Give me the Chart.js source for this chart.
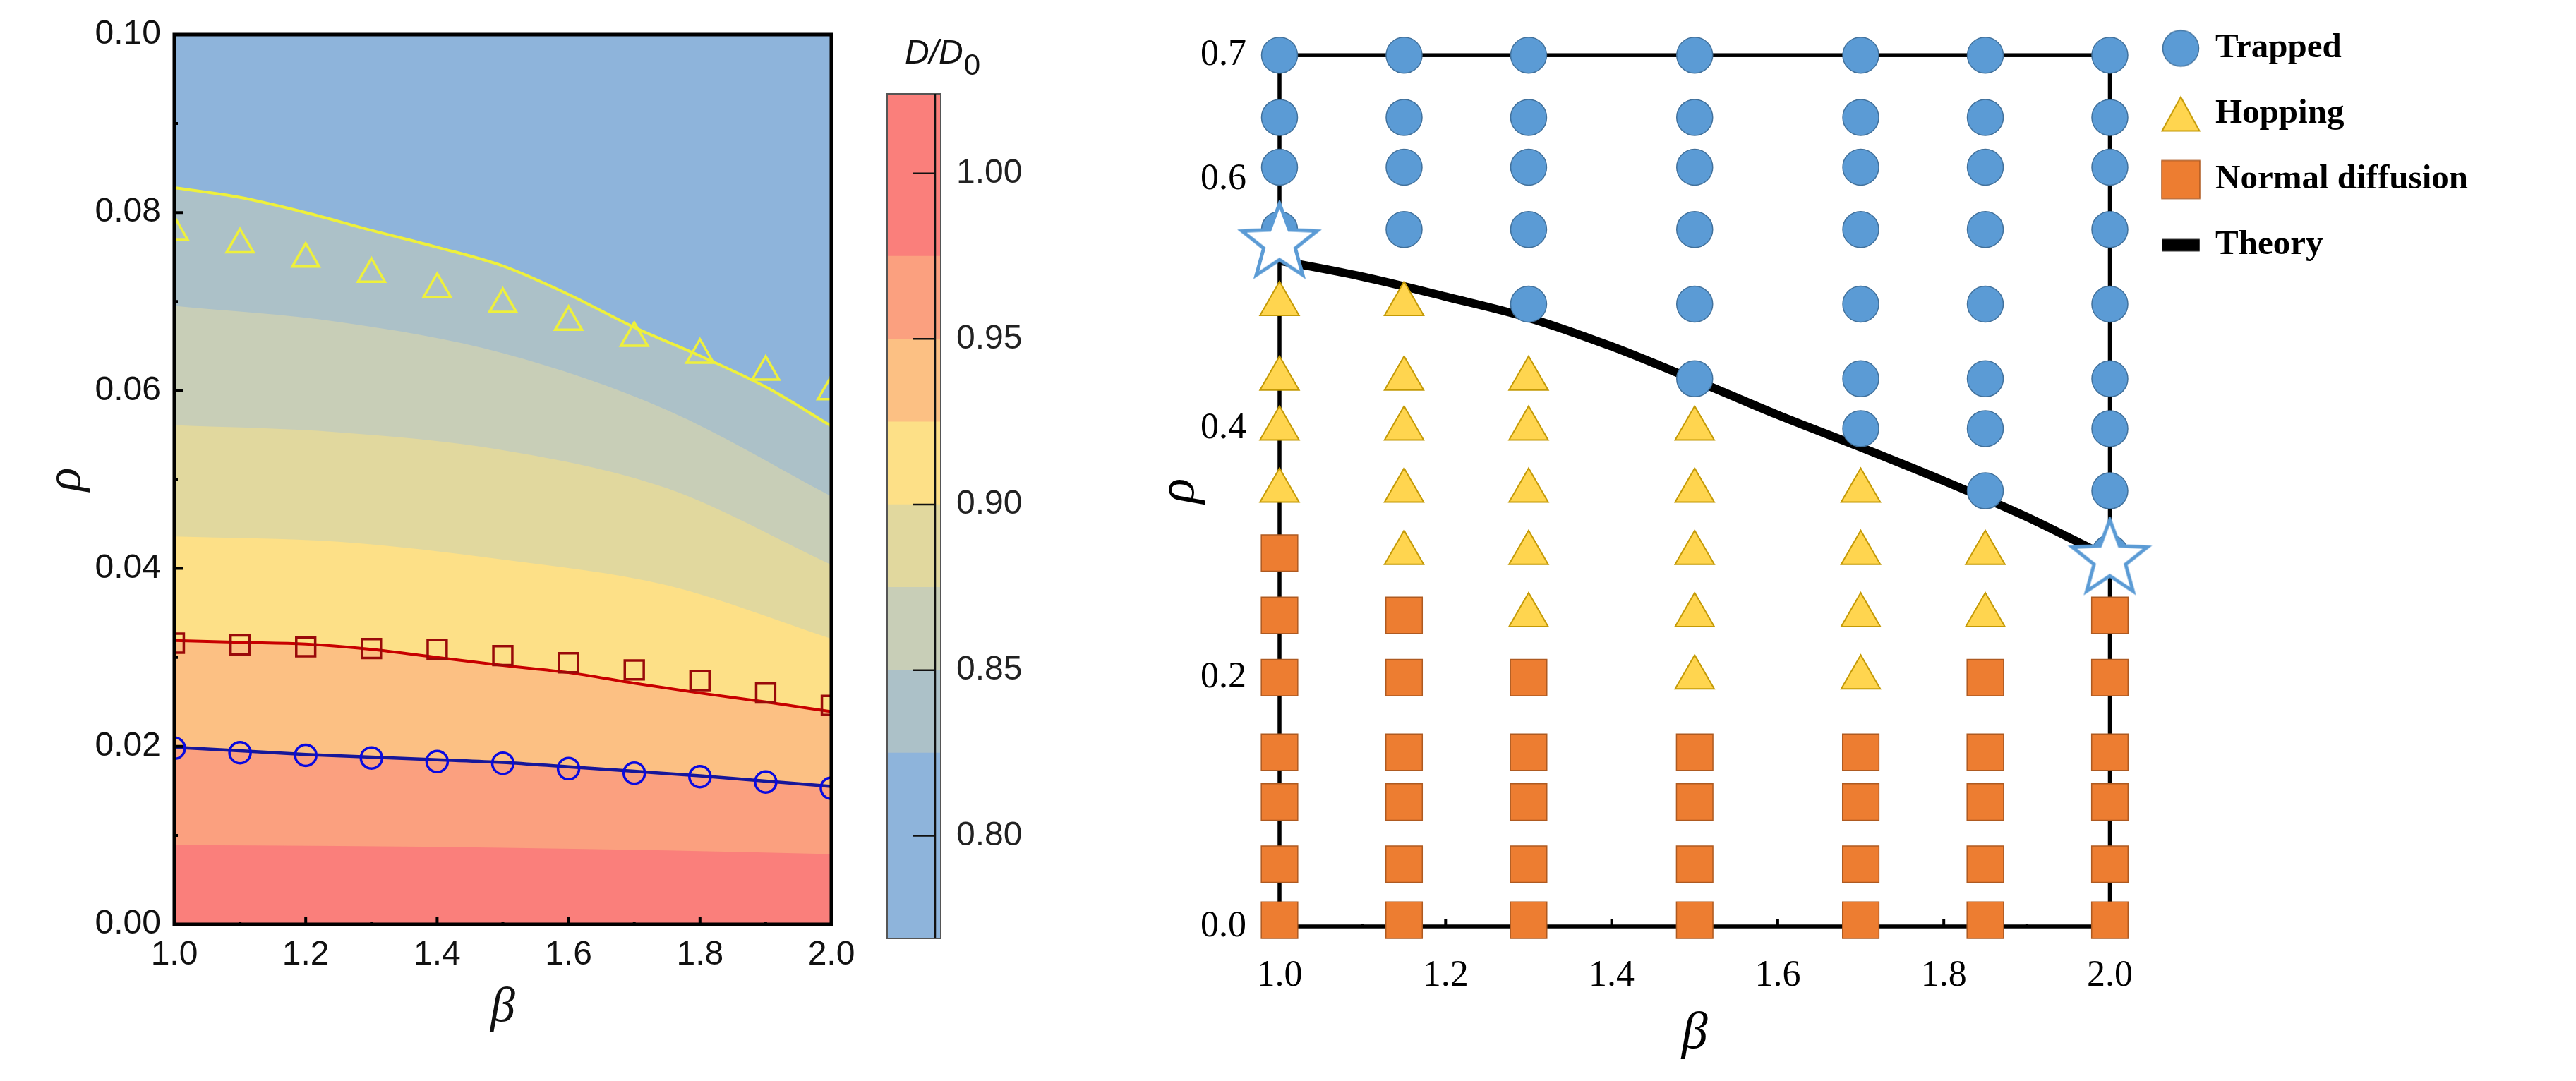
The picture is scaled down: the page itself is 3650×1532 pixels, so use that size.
<!DOCTYPE html>
<html>
<head>
<meta charset="utf-8">
<script src="https://cdn.jsdelivr.net/npm/chart.js@4.4.1/dist/chart.umd.min.js"></script>
<style>
  html, body { margin: 0; padding: 0; background: #fff; }
  body { width: 3650px; height: 1532px; position: relative; overflow: hidden; }
  canvas { position: absolute; top: 0; }
  #chartMapa { left: 0px; }
  #chartBarra { left: 1240px; }
  #chartFases { left: 1600px; }
</style>
</head>
<body>
<canvas id="chartMapa" width="1240" height="1532"></canvas>
<canvas id="chartBarra" width="300" height="1532"></canvas>
<canvas id="chartFases" width="1907" height="1532"></canvas>
<script>
// ---------- left panel: D/D0 map ----------
const betaLeft = [1.0, 1.1, 1.2, 1.3, 1.4, 1.5, 1.6, 1.7, 1.8, 1.9, 2.0];
const rhoTriangles = [0.0778, 0.0764, 0.0748, 0.0731, 0.0714, 0.0697, 0.0677, 0.0659, 0.0640, 0.0621, 0.0599];
const rhoYellowLine = [0.0828, 0.0817, 0.0800, 0.0780, 0.0761, 0.0740, 0.0708, 0.0671, 0.0639, 0.0604, 0.0560];
const rhoSquares = [0.0316, 0.0314, 0.0312, 0.0310, 0.0309, 0.0302, 0.0294, 0.0286, 0.0274, 0.0260, 0.0246];
const rhoRedLine = [0.0319, 0.0317, 0.0315, 0.0309, 0.0300, 0.0291, 0.0283, 0.0271, 0.0260, 0.0250, 0.0239];
const rhoCircles = [0.0198, 0.0193, 0.0190, 0.0187, 0.0183, 0.0181, 0.0175, 0.0170, 0.0166, 0.0160, 0.0153];
const rhoBlueLine = [0.0199, 0.0195, 0.0191, 0.0188, 0.0185, 0.0182, 0.0177, 0.0172, 0.0167, 0.0161, 0.0155];

// edges of the coloured contour bands
const betaBands = [1.0, 1.25, 1.5, 1.75, 2.0];
const rhoEdge975 = [0.0089, 0.0088, 0.0086, 0.0083, 0.0079];
const rhoEdge900 = [0.0436, 0.0430, 0.0410, 0.0381, 0.0321];
const rhoEdge875 = [0.0561, 0.0553, 0.0533, 0.0490, 0.0404];
const rhoEdge850 = [0.0695, 0.0677, 0.0642, 0.0578, 0.0481];

const xTicksLeft = [1.0, 1.2, 1.4, 1.6, 1.8, 2.0];
const yTicksLeft = [0.00, 0.02, 0.04, 0.06, 0.08, 0.10];

// ---------- colour bar ----------
const cbEdges = [0.769, 0.825, 0.85, 0.875, 0.90, 0.925, 0.95, 0.975, 1.024];
const cbColors = ['#8EB4DB', '#ACC1C8', '#C8CEB7', '#E1D89E', '#FDE087', '#FCC083', '#FBA07F', '#FA7F7B'];
const cbTicks = [0.80, 0.85, 0.90, 0.95, 1.00];

// ---------- right panel: phase diagram ----------
const betaCols = [1.0, 1.15, 1.3, 1.5, 1.7, 1.85, 2.0];
const rhoRows = [0.70, 0.65, 0.61, 0.56, 0.50, 0.44, 0.40, 0.35, 0.30, 0.25, 0.20, 0.14, 0.10, 0.05, 0.005];
// T = trapped, H = hopping, N = normal diffusion; one string per beta column, top row first
const phaseCols = [
  'TTTTHHHHNNNNNNN',
  'TTTTHHHHHNNNNNN',
  'TTTTTHHHHHNNNNN',
  'TTTTTTHHHHHNNNN',
  'TTTTTTTHHHHNNNN',
  'TTTTTTTTHHNNNNN',
  'TTTTTTTTTNNNNNN'
];
const betaTheory = [1.0, 1.1, 1.2, 1.3, 1.4, 1.5, 1.6, 1.7, 1.8, 1.9, 2.0];
const rhoTheory = [0.535, 0.522, 0.506, 0.489, 0.466, 0.439, 0.411, 0.385, 0.358, 0.329, 0.296];
const betaStars = [1.0, 2.0];
const rhoStars = [0.549, 0.295];
const xTicksRight = [1.0, 1.2, 1.4, 1.6, 1.8, 2.0];
const yTicksRight = [0.0, 0.2, 0.4, 0.6, 0.7];
const legendNames = ['Trapped', 'Hopping', 'Normal diffusion', 'Theory'];

Chart.defaults.font.family = 'Liberation Sans';
Chart.defaults.color = '#111';

function pts(xs, ys) {
  return xs.map((x, i) => ({ x: x, y: ys[i] }));
}

const blueFill = '#5B9BD5', blueEdge = '#41719C';
const yellowFill = '#FFD54F', yellowEdge = '#C49A06';
const orangeFill = '#ED7D31', orangeEdge = '#AE5A21';

// ====== left chart ======
const bandas = [
  { data: rhoEdge975, cor: cbColors[7], ordem: 11 },
  { data: rhoBlueLine, beta: betaLeft, cor: cbColors[6], ordem: 12 },
  { data: rhoRedLine, beta: betaLeft, cor: cbColors[5], ordem: 13 },
  { data: rhoEdge900, cor: cbColors[4], ordem: 14 },
  { data: rhoEdge875, cor: cbColors[3], ordem: 15 },
  { data: rhoEdge850, cor: cbColors[2], ordem: 16 },
  { data: rhoYellowLine, beta: betaLeft, cor: cbColors[1], ordem: 17 }
];

const datasetsMapa = bandas.map(b => ({
  data: pts(b.beta || betaBands, b.data),
  fill: 'start',
  backgroundColor: b.cor,
  borderWidth: 0,
  pointRadius: 0,
  cubicInterpolationMode: 'monotone',
  order: b.ordem,
  clip: 0
}));

function linha(ys, cor, largura, ordem) {
  return {
    data: pts(betaLeft, ys), borderColor: cor, borderWidth: largura,
    pointRadius: 0, fill: false, cubicInterpolationMode: 'monotone', order: ordem, clip: 0
  };
}
function marcas(ys, estilo, raio, cor, ordem) {
  return {
    data: pts(betaLeft, ys), showLine: false, pointStyle: estilo, pointRadius: raio,
    pointBorderWidth: 3.5, pointBorderColor: cor, pointBackgroundColor: 'rgba(0,0,0,0)',
    order: ordem, clip: 0
  };
}
datasetsMapa.push(linha(rhoYellowLine, '#EEF03C', 4, 5));
datasetsMapa.push(marcas(rhoTriangles, 'triangle', 22, '#EEF03C', 4));
datasetsMapa.push(linha(rhoRedLine, '#C80000', 4, 3));
datasetsMapa.push(marcas(rhoSquares, 'rect', 19, '#9A0A0A', 2));
datasetsMapa.push(linha(rhoBlueLine, '#17179A', 4.5, 1));
datasetsMapa.push(marcas(rhoCircles, 'circle', 15, '#0A0AE0', 0));

const molduraMapa = {
  id: 'molduraMapa',
  beforeDraw(chart) {
    const a = chart.chartArea, ctx = chart.ctx;
    ctx.save();
    ctx.fillStyle = cbColors[0];
    ctx.fillRect(a.left, a.top, a.right - a.left, a.bottom - a.top);
    ctx.restore();
  },
  afterDatasetsDraw(chart) {
    const a = chart.chartArea, ctx = chart.ctx;
    const sx = chart.scales.x, sy = chart.scales.y;
    ctx.save();
    ctx.strokeStyle = '#000';
    ctx.lineWidth = 4;
    ctx.beginPath();
    for (let i = 1; i < 10; i++) {
      const y = sy.getPixelForValue(i / 100);
      const ly = i % 2 === 0 ? 13 : 5;
      ctx.moveTo(a.left, y); ctx.lineTo(a.left + ly, y);
      const x = sx.getPixelForValue(1 + i / 10);
      const lx = i % 2 === 0 ? 10 : 4;
      ctx.moveTo(x, a.bottom); ctx.lineTo(x, a.bottom - lx);
    }
    ctx.stroke();
    ctx.lineWidth = 5;
    ctx.strokeRect(a.left, a.top, a.right - a.left, a.bottom - a.top);
    ctx.restore();
  }
};

new Chart(document.getElementById('chartMapa'), {
  type: 'line',
  data: { datasets: datasetsMapa },
  options: {
    responsive: false, animation: false, devicePixelRatio: 1, events: [],
    layout: { padding: { top: 49, right: 62, bottom: 0, left: 0 } },
    plugins: { legend: { display: false }, tooltip: { enabled: false }, filler: { drawTime: 'beforeDatasetsDraw' } },
    scales: {
      x: {
        type: 'linear', min: 1, max: 2, position: 'bottom',
        afterBuildTicks: s => { s.ticks = xTicksLeft.map(v => ({ value: v })); },
        afterFit: s => { s.height = 222; },
        grid: { display: false, drawTicks: false }, border: { display: false },
        ticks: { padding: 15, font: { size: 48 }, color: '#111', maxRotation: 0, autoSkip: false, callback: v => v.toFixed(1) },
        title: { display: true, text: 'β', color: '#111', font: { family: 'Liberation Serif', style: 'italic', size: 70, lineHeight: 1 }, padding: { top: 0, bottom: 68 } }
      },
      y: {
        type: 'linear', min: 0, max: 0.1,
        afterBuildTicks: s => { s.ticks = yTicksLeft.map(v => ({ value: v })); },
        afterFit: s => { s.width = 247; },
        grid: { display: false, drawTicks: false }, border: { display: false },
        ticks: { padding: 19, font: { size: 48 }, color: '#111', autoSkip: false, callback: v => v.toFixed(2) },
        title: { display: true, text: 'ρ', color: '#111', font: { family: 'Liberation Serif', style: 'italic', size: 70, lineHeight: 1 }, padding: { top: 60, bottom: 0 } }
      }
    }
  },
  plugins: [molduraMapa]
});

// ====== colour bar ======
const eixoBarra = {
  id: 'eixoBarra',
  afterDatasetsDraw(chart) {
    const a = chart.chartArea, ctx = chart.ctx, sy = chart.scales.y;
    const ax = a.right - 8;
    ctx.save();
    ctx.strokeStyle = '#555';
    ctx.lineWidth = 2;
    ctx.strokeRect(a.left, a.top, a.right - a.left, a.bottom - a.top);
    ctx.strokeStyle = '#111';
    ctx.lineWidth = 2.5;
    ctx.beginPath();
    ctx.moveTo(ax, a.top); ctx.lineTo(ax, a.bottom);
    cbTicks.forEach(v => {
      const y = sy.getPixelForValue(v);
      ctx.moveTo(ax - 32, y); ctx.lineTo(ax, y);
    });
    ctx.stroke();
    // D/D0 label above the bar
    ctx.fillStyle = '#111';
    ctx.textBaseline = 'alphabetic';
    ctx.font = 'italic 48px "Liberation Sans"';
    ctx.fillText('D/D', 42, 90);
    const w = ctx.measureText('D/D').width;
    ctx.font = '42px "Liberation Sans"';
    ctx.fillText('0', 42 + w + 1, 106);
    ctx.restore();
  }
};

new Chart(document.getElementById('chartBarra'), {
  type: 'bar',
  data: {
    labels: ['D/D0'],
    datasets: cbColors.map((c, i) => ({
      data: [[cbEdges[i], cbEdges[i + 1]]],
      backgroundColor: c, borderWidth: 0,
      grouped: false, barPercentage: 1, categoryPercentage: 1
    }))
  },
  options: {
    responsive: false, animation: false, devicePixelRatio: 1, events: [],
    layout: { padding: { top: 133, right: 0, bottom: 202, left: 17 } },
    plugins: { legend: { display: false }, tooltip: { enabled: false } },
    scales: {
      x: { display: false },
      y: {
        position: 'right', min: cbEdges[0], max: cbEdges[cbEdges.length - 1],
        afterBuildTicks: s => { s.ticks = cbTicks.map(v => ({ value: v })); },
        afterFit: s => { s.width = 207; },
        grid: { display: false, drawTicks: false }, border: { display: false },
        ticks: { padding: 22, font: { size: 48 }, color: '#222', autoSkip: false, callback: v => v.toFixed(2) }
      }
    }
  },
  plugins: [eixoBarra]
});

// ====== right chart ======
function faseParaPontos(codigo) {
  const lista = [];
  betaCols.forEach((b, j) => {
    rhoRows.forEach((r, i) => {
      if (phaseCols[j][i] === codigo) lista.push({ x: b, y: r });
    });
  });
  return lista;
}

function makeStar(R, lw) {
  const c = document.createElement('canvas');
  const s = Math.ceil(2 * R + 2 * lw);
  c.width = s; c.height = s;
  const g = c.getContext('2d');
  g.beginPath();
  for (let i = 0; i < 10; i++) {
    const r = i % 2 ? R * 0.42 : R;
    const ang = -Math.PI / 2 + i * Math.PI / 5;
    const px = s / 2 + r * Math.cos(ang), py = s / 2 + r * Math.sin(ang);
    if (i === 0) g.moveTo(px, py); else g.lineTo(px, py);
  }
  g.closePath();
  g.fillStyle = '#fff';
  g.fill();
  g.lineWidth = lw;
  g.strokeStyle = blueFill;
  g.lineJoin = 'miter';
  g.stroke();
  return c;
}

// legend glyphs, same look as the plotted markers
function makeGlyph(tipo) {
  const c = document.createElement('canvas');
  c.width = 60; c.height = 60;
  const g = c.getContext('2d');
  g.lineWidth = 1.5;
  g.beginPath();
  if (tipo === 'circle') {
    g.arc(30, 30, 25.5, 0, Math.PI * 2);
    g.fillStyle = blueFill; g.strokeStyle = blueEdge;
  } else if (tipo === 'triangle') {
    g.moveTo(30, 6); g.lineTo(56.5, 54); g.lineTo(3.5, 54); g.closePath();
    g.fillStyle = yellowFill; g.strokeStyle = yellowEdge; g.lineWidth = 2;
  } else if (tipo === 'rect') {
    g.rect(3, 3, 54, 54);
    g.fillStyle = orangeFill; g.strokeStyle = orangeEdge;
  } else {
    g.rect(4, 22, 52, 16);
    g.fillStyle = '#000'; g.strokeStyle = '#000';
  }
  g.fill();
  g.stroke();
  return c;
}
const glifos = [makeGlyph('circle'), makeGlyph('triangle'), makeGlyph('rect'), makeGlyph('line')];

const datasetsFases = [
  { data: pts(betaStars, rhoStars), showLine: false, pointStyle: makeStar(56, 5), pointRadius: 56, clip: false },
  { label: legendNames[0], data: faseParaPontos('T'), showLine: false, pointStyle: 'circle', pointRadius: 25.5,
    pointBackgroundColor: blueFill, pointBorderColor: blueEdge, pointBorderWidth: 1.5, clip: false },
  { label: legendNames[1], data: faseParaPontos('H'), showLine: false, pointStyle: 'triangle', pointRadius: 32,
    pointBackgroundColor: yellowFill, pointBorderColor: yellowEdge, pointBorderWidth: 2, clip: false },
  { label: legendNames[2], data: faseParaPontos('N'), showLine: false, pointStyle: 'rect', pointRadius: 36.5,
    pointBackgroundColor: orangeFill, pointBorderColor: orangeEdge, pointBorderWidth: 1.5, clip: false },
  { label: legendNames[3], data: pts(betaTheory, rhoTheory), borderColor: '#000', borderWidth: 12,
    pointRadius: 0, cubicInterpolationMode: 'monotone', fill: false, clip: false }
];

const molduraFases = {
  id: 'molduraFases',
  beforeDatasetsDraw(chart) {
    const a = chart.chartArea, ctx = chart.ctx, sx = chart.scales.x;
    ctx.save();
    ctx.strokeStyle = '#000';
    ctx.lineWidth = 4;
    ctx.beginPath();
    for (let i = 1; i < 10; i++) {
      const x = sx.getPixelForValue(1 + i / 10);
      const len = i % 2 === 0 ? 10 : 4;
      ctx.moveTo(x, a.bottom); ctx.lineTo(x, a.bottom - len);
    }
    ctx.stroke();
    ctx.lineWidth = 5.5;
    ctx.strokeRect(a.left, a.top, a.right - a.left, a.bottom - a.top);
    ctx.restore();
  }
};

const eixoOculto = { display: true, ticks: { display: false }, grid: { display: false, drawTicks: false }, border: { display: false } };
const serif = 'Liberation Serif';

new Chart(document.getElementById('chartFases'), {
  type: 'line',
  data: { datasets: datasetsFases },
  options: {
    responsive: false, animation: false, devicePixelRatio: 1, events: [],
    layout: { padding: 0 },
    plugins: {
      tooltip: { enabled: false },
      legend: {
        display: true, position: 'right', align: 'start', maxWidth: 700,
        labels: {
          usePointStyle: true, boxWidth: 49, boxHeight: 37, padding: 44, color: '#000',
          font: { family: serif, size: 49, weight: 'bold' },
          generateLabels: () => legendNames.map((nome, i) => ({
            text: nome, pointStyle: glifos[i], fillStyle: '#000', strokeStyle: '#000',
            lineWidth: 0, hidden: false, datasetIndex: i + 1
          }))
        }
      }
    },
    scales: {
      x: {
        type: 'linear', min: 1, max: 2, position: 'bottom',
        afterBuildTicks: s => { s.ticks = xTicksRight.map(v => ({ value: v })); },
        afterFit: s => { s.height = 219; },
        grid: { display: false, drawTicks: false }, border: { display: false },
        ticks: { padding: 39, font: { family: serif, size: 52 }, color: '#000', maxRotation: 0, autoSkip: false, callback: v => v.toFixed(1) },
        title: { display: true, text: 'β', color: '#000', font: { family: serif, style: 'italic', size: 74, lineHeight: 1 }, padding: { top: 0, bottom: 29 } }
      },
      y: {
        type: 'linear', min: 0, max: 0.7, position: 'left',
        afterBuildTicks: s => { s.ticks = yTicksRight.map(v => ({ value: v })); },
        afterFit: s => { s.width = 213; },
        grid: { display: false, drawTicks: false }, border: { display: false },
        ticks: { padding: 47, font: { family: serif, size: 52 }, color: '#000', autoSkip: false, callback: v => v.toFixed(1) },
        title: { display: true, text: 'ρ', color: '#000', font: { family: serif, style: 'italic', size: 74, lineHeight: 1 }, padding: { top: 35, bottom: 0 } }
      },
      xTop: Object.assign({ type: 'linear', position: 'top', afterFit: s => { s.height = 67; } }, eixoOculto),
      yRight: Object.assign({ type: 'linear', position: 'right', afterFit: s => { s.width = 32; } }, eixoOculto)
    }
  },
  plugins: [molduraFases]
});
</script>
</body>
</html>
